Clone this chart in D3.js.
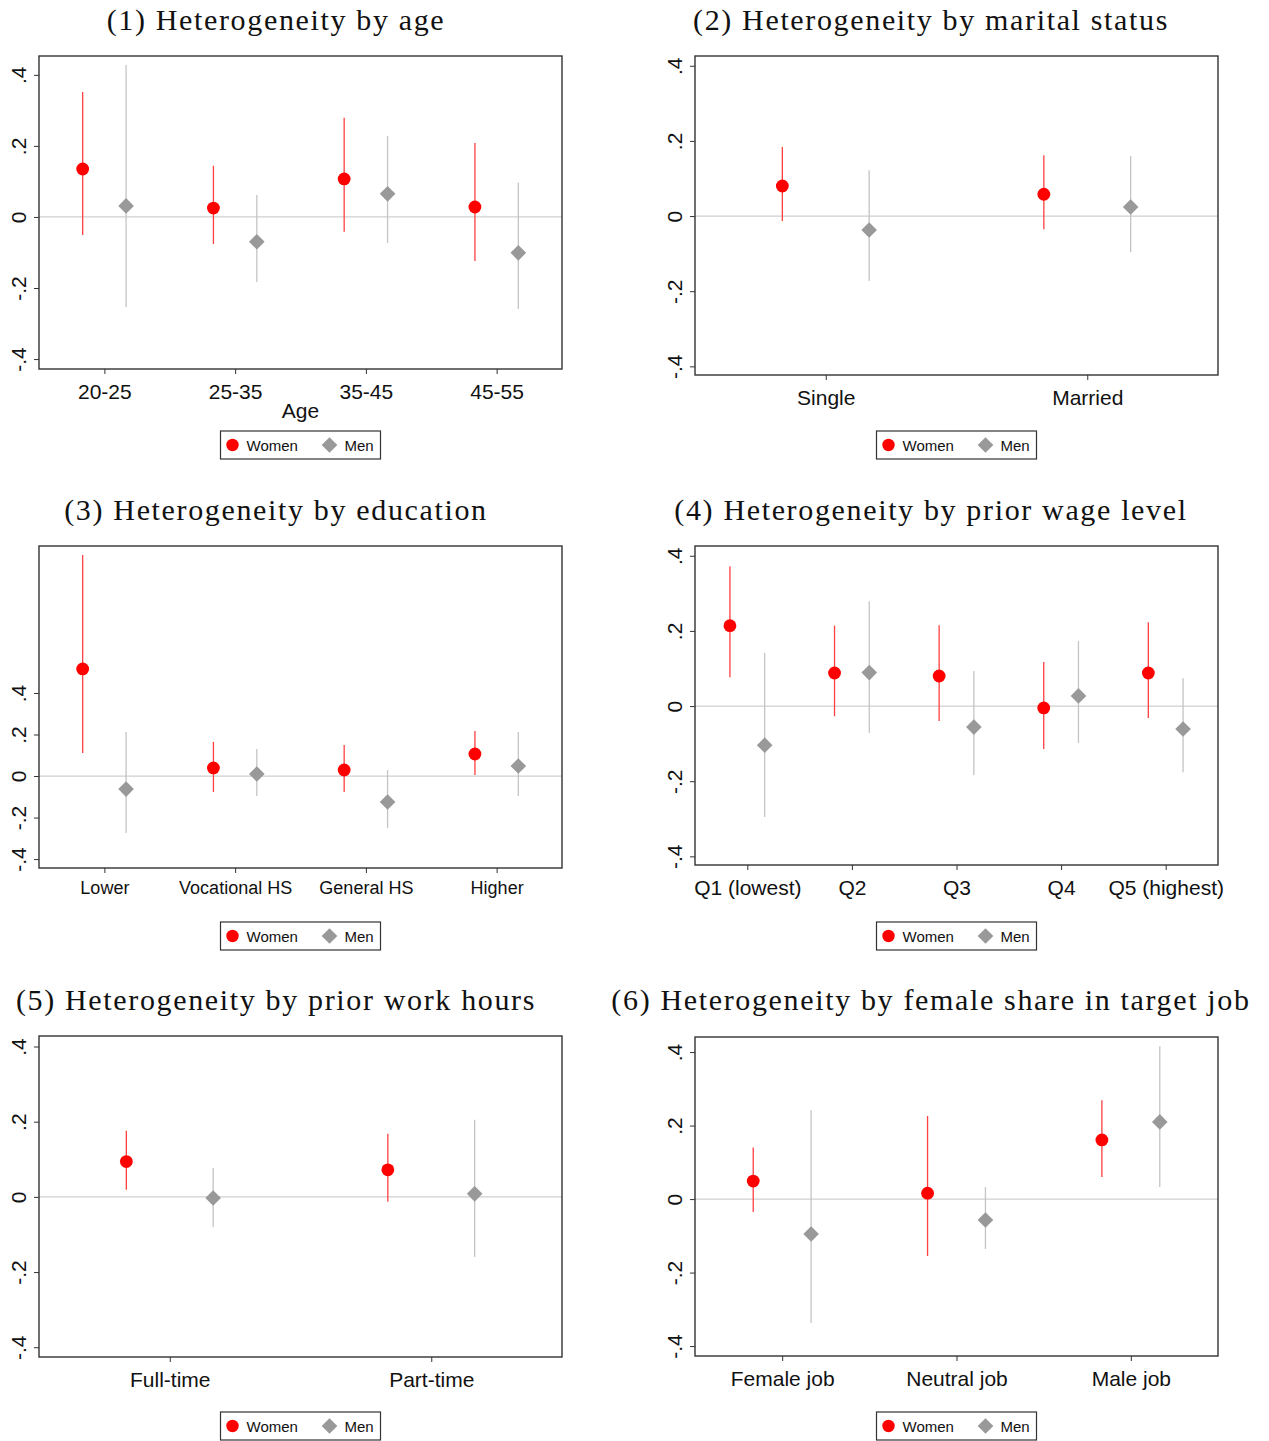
<!DOCTYPE html>
<html>
<head>
<meta charset="utf-8">
<script src="https://d3js.org/d3.v7.min.js"></script>
<style>
  body { margin: 0; background: #fff; }
  svg { display: block; }
  .tick text { font-family: "Liberation Sans", Arial, sans-serif; font-size: 21px; fill: #111; }
  .title { font-family: "Liberation Serif", "Times New Roman", serif; font-size: 30px; letter-spacing: 1.65px; fill: #111; }
  .legend text { font-family: "Liberation Sans", Arial, sans-serif; font-size: 15px; fill: #111; }
</style>
</head>
<body>
<svg width="1269" height="1441"></svg>
<script>
// ---- data ----
const ageCats = ["20-25", "25-35", "35-45", "45-55"];
const ageWomen = [0.135, 0.025, 0.107, 0.028];
const ageWomenLo = [-0.051, -0.076, -0.042, -0.124];
const ageWomenHi = [0.352, 0.144, 0.279, 0.208];
const ageMen = [0.031, -0.070, 0.065, -0.101];
const ageMenLo = [-0.254, -0.183, -0.073, -0.259];
const ageMenHi = [0.428, 0.062, 0.228, 0.096];

const maritalCats = ["Single", "Married"];
const maritalWomen = [0.080, 0.058];
const maritalWomenLo = [-0.013, -0.035];
const maritalWomenHi = [0.184, 0.162];
const maritalMen = [-0.037, 0.024];
const maritalMenLo = [-0.173, -0.096];
const maritalMenHi = [0.122, 0.160];

const eduCats = ["Lower", "Vocational HS", "General HS", "Higher"];
const eduWomen = [0.516, 0.039, 0.029, 0.106];
const eduWomenLo = [0.111, -0.077, -0.077, 0.005];
const eduWomenHi = [1.065, 0.164, 0.149, 0.217];
const eduMen = [-0.063, 0.010, -0.125, 0.048];
const eduMenLo = [-0.275, -0.096, -0.251, -0.096];
const eduMenHi = [0.212, 0.130, 0.029, 0.212];

const wageCats = ["Q1 (lowest)", "Q2", "Q3", "Q4", "Q5 (highest)"];
const wageWomen = [0.214, 0.088, 0.080, -0.005, 0.088];
const wageWomenLo = [0.077, -0.027, -0.040, -0.114, -0.032];
const wageWomenHi = [0.372, 0.214, 0.215, 0.117, 0.223];
const wageMen = [-0.104, 0.089, -0.056, 0.027, -0.061];
const wageMenLo = [-0.295, -0.072, -0.184, -0.098, -0.176];
const wageMenHi = [0.141, 0.279, 0.093, 0.173, 0.074];

const hoursCats = ["Full-time", "Part-time"];
const hoursWomen = [0.094, 0.072];
const hoursWomenLo = [0.019, -0.013];
const hoursWomenHi = [0.176, 0.168];
const hoursMen = [-0.003, 0.008];
const hoursMenLo = [-0.080, -0.160];
const hoursMenHi = [0.077, 0.205];

const shareCats = ["Female job", "Neutral job", "Male job"];
const shareWomen = [0.049, 0.016, 0.161];
const shareWomenLo = [-0.035, -0.155, 0.060];
const shareWomenHi = [0.140, 0.226, 0.269];
const shareMen = [-0.095, -0.057, 0.210];
const shareMenLo = [-0.337, -0.136, 0.033];
const shareMenHi = [0.242, 0.033, 0.416];

const yTicks = [-0.4, -0.2, 0, 0.2, 0.4];
const yTickLabels = ["-.4", "-.2", "0", ".2", ".4"];

// ---- panel layout ----
const panels = [
  { title: "(1) Heterogeneity by age", cats: ageCats,
    w: [ageWomen, ageWomenLo, ageWomenHi], m: [ageMen, ageMenLo, ageMenHi],
    x0: 39, x1: 562, y0: 56, y1: 369, yd: [-0.428, 0.453], xlab: "Age",
    tx: 276, ty: 30, ly: 431, xfs: 21, xty: 30 },
  { title: "(2) Heterogeneity by marital status", cats: maritalCats,
    w: [maritalWomen, maritalWomenLo, maritalWomenHi], m: [maritalMen, maritalMenLo, maritalMenHi],
    x0: 695, x1: 1218, y0: 56, y1: 375, yd: [-0.423, 0.426],
    tx: 931, ty: 30, ly: 431, xfs: 21, xty: 30 },
  { title: "(3) Heterogeneity by education", cats: eduCats,
    w: [eduWomen, eduWomenLo, eduWomenHi], m: [eduMen, eduMenLo, eduMenHi],
    x0: 39, x1: 562, y0: 546, y1: 868, yd: [-0.443, 1.108],
    tx: 276, ty: 520, ly: 922, xfs: 18, xty: 26 },
  { title: "(4) Heterogeneity by prior wage level", cats: wageCats,
    w: [wageWomen, wageWomenLo, wageWomenHi], m: [wageMen, wageMenLo, wageMenHi],
    x0: 695, x1: 1218, y0: 546, y1: 865, yd: [-0.423, 0.426],
    tx: 931, ty: 520, ly: 922, xfs: 21, xty: 30 },
  { title: "(5) Heterogeneity by prior work hours", cats: hoursCats,
    w: [hoursWomen, hoursWomenLo, hoursWomenHi], m: [hoursMen, hoursMenLo, hoursMenHi],
    x0: 39, x1: 562, y0: 1036, y1: 1357, yd: [-0.426, 0.428],
    tx: 276, ty: 1010, ly: 1412, xfs: 21, xty: 30 },
  { title: "(6) Heterogeneity by female share in target job", cats: shareCats,
    w: [shareWomen, shareWomenLo, shareWomenHi], m: [shareMen, shareMenLo, shareMenHi],
    x0: 695, x1: 1218, y0: 1037, y1: 1356, yd: [-0.427, 0.441],
    tx: 931, ty: 1010, ly: 1412, xfs: 21, xty: 30 }
];

const svg = d3.select("svg");
const womenColor = "#ff0000", womenCI = "#ff4040";
const menColor = "#999999", menCI = "#c4c4c4";
const offset = 0.166;
const diamond = d3.symbol().type(d3.symbolSquare).size(122);

panels.forEach(function(p) {
  const n = p.cats.length;
  const x = d3.scaleLinear().domain([0.5, n + 0.5]).range([p.x0, p.x1]);
  const y = d3.scaleLinear().domain(p.yd).range([p.y1, p.y0]);
  const g = svg.append("g");

  g.append("text").attr("class", "title")
    .attr("x", p.tx).attr("y", p.ty)
    .attr("text-anchor", "middle").text(p.title);

  // zero line
  g.append("line")
    .attr("x1", p.x0).attr("x2", p.x1)
    .attr("y1", y(0)).attr("y2", y(0))
    .attr("stroke", "#cfcfcf").attr("stroke-width", 1.2);

  // y axis
  const ya = g.append("g")
    .attr("transform", "translate(" + p.x0 + ",0)")
    .call(d3.axisLeft(y).tickValues(yTicks).tickSize(5)
      .tickFormat(function(d, i) { return yTickLabels[i]; }));
  ya.select(".domain").remove();
  ya.selectAll(".tick line").attr("stroke", "#333");
  ya.selectAll(".tick text")
    .attr("x", 0).attr("dy", 0)
    .attr("text-anchor", "middle")
    .attr("transform", "translate(-13,0) rotate(-90)");

  // x axis
  const xa = g.append("g")
    .attr("transform", "translate(0," + p.y1 + ")")
    .call(d3.axisBottom(x).tickValues(d3.range(1, n + 1)).tickSize(5)
      .tickFormat(function(d) { return p.cats[d - 1]; }));
  xa.select(".domain").remove();
  xa.selectAll(".tick line").attr("stroke", "#333");
  xa.selectAll(".tick text").attr("y", p.xty).attr("dy", 0)
    .style("font-size", p.xfs + "px");

  if (p.xlab) {
    g.append("text")
      .attr("x", (p.x0 + p.x1) / 2).attr("y", p.y1 + 49)
      .attr("text-anchor", "middle")
      .style("font-family", "'Liberation Sans', Arial, sans-serif")
      .style("font-size", "21px").attr("fill", "#111")
      .text(p.xlab);
  }

  // confidence intervals
  const idx = d3.range(n);
  g.selectAll(".ciw").data(idx).enter().append("line")
    .attr("x1", function(i) { return x(i + 1 - offset); })
    .attr("x2", function(i) { return x(i + 1 - offset); })
    .attr("y1", function(i) { return y(p.w[1][i]); })
    .attr("y2", function(i) { return y(p.w[2][i]); })
    .attr("stroke", womenCI).attr("stroke-width", 1.3);
  g.selectAll(".cim").data(idx).enter().append("line")
    .attr("x1", function(i) { return x(i + 1 + offset); })
    .attr("x2", function(i) { return x(i + 1 + offset); })
    .attr("y1", function(i) { return y(p.m[1][i]); })
    .attr("y2", function(i) { return y(p.m[2][i]); })
    .attr("stroke", menCI).attr("stroke-width", 1.3);

  // point estimates
  g.selectAll(".pw").data(idx).enter().append("circle")
    .attr("cx", function(i) { return x(i + 1 - offset); })
    .attr("cy", function(i) { return y(p.w[0][i]); })
    .attr("r", 6.4).attr("fill", womenColor);
  g.selectAll(".pm").data(idx).enter().append("path")
    .attr("d", diamond)
    .attr("transform", function(i) {
      return "translate(" + x(i + 1 + offset) + "," + y(p.m[0][i]) + ") rotate(45)";
    })
    .attr("fill", menColor);

  // plot box
  g.append("rect")
    .attr("x", p.x0).attr("y", p.y0)
    .attr("width", p.x1 - p.x0).attr("height", p.y1 - p.y0)
    .attr("fill", "none").attr("stroke", "#333").attr("stroke-width", 1.4);

  // legend
  const cx = (p.x0 + p.x1) / 2;
  const lg = g.append("g").attr("class", "legend");
  lg.append("rect")
    .attr("x", cx - 80).attr("y", p.ly).attr("width", 160).attr("height", 28)
    .attr("fill", "#fff").attr("stroke", "#333").attr("stroke-width", 1.2);
  lg.append("circle").attr("cx", cx - 68).attr("cy", p.ly + 14).attr("r", 6.2).attr("fill", womenColor);
  lg.append("text").attr("x", cx - 54).attr("y", p.ly + 19.5).text("Women");
  lg.append("path").attr("d", diamond)
    .attr("transform", "translate(" + (cx + 29) + "," + (p.ly + 14) + ") rotate(45)")
    .attr("fill", menColor);
  lg.append("text").attr("x", cx + 44).attr("y", p.ly + 19.5).text("Men");
});
</script>
</body>
</html>
